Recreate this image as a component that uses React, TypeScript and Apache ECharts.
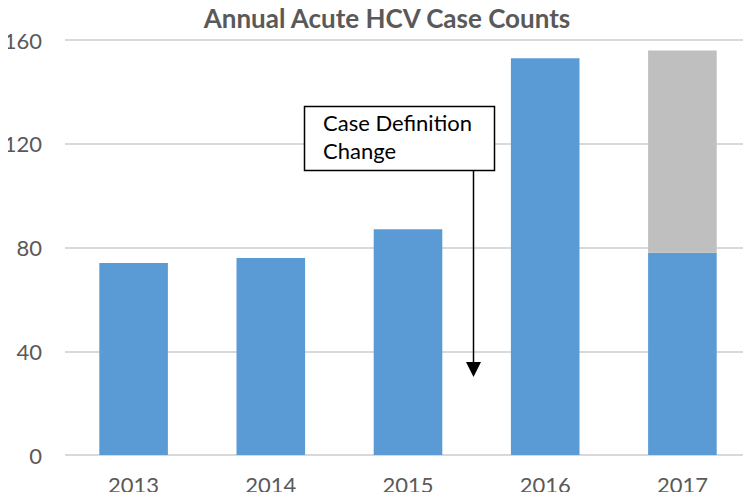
import React, { useEffect, useRef } from "react";
import * as echarts from "echarts";

const categories = ["2013", "2014", "2015", "2016", "2017"];
const confirmedCases = [74, 76, 87, 153, 78];
const additionalCases = [null, null, null, null, 78];
const yTicks = [0, 40, 80, 120, 160];
const titleText = "Annual Acute HCV Case Counts";
const annotationLines = ["Case Definition", "Change"];

const FONT = "Lato, 'Open Sans', sans-serif";

export default function App() {
  const ref = useRef<HTMLDivElement>(null);
  useEffect(() => {
    if (!ref.current) return;
    const chart = echarts.init(ref.current, null, { renderer: "svg" });
    const yMax = yTicks[yTicks.length - 1];
    const interval = yTicks[1] - yTicks[0];
    chart.setOption({
      animation: false,
      textStyle: { fontFamily: FONT },
      title: {
        text: titleText,
        left: 382,
        textAlign: "center",
        top: 0,
        textStyle: { fontFamily: FONT, fontSize: 26, fontWeight: "bold", color: "#595959" },
      },
      grid: { left: 65, width: 690, top: 40, bottom: 45 },
      xAxis: {
        type: "category",
        data: categories,
        axisLine: { show: false },
        axisTick: { show: false },
        axisLabel: { color: "#595959", fontSize: 22, margin: 18, fontFamily: FONT },
      },
      yAxis: {
        type: "value",
        min: 0,
        max: yMax,
        interval,
        axisLine: { show: false },
        axisTick: { show: false },
        axisLabel: { color: "#595959", fontSize: 22, margin: 23, fontFamily: FONT },
        splitLine: { lineStyle: { color: "#D9D9D9", width: 2 } },
      },
      series: [
        {
          type: "bar",
          stack: "total",
          data: confirmedCases,
          barWidth: "50%",
          itemStyle: { color: "#5B9BD5" },
        },
        {
          type: "bar",
          stack: "total",
          data: additionalCases,
          barWidth: "50%",
          itemStyle: { color: "#BFBFBF" },
        },
      ],
      graphic: [
        {
          type: "rect",
          shape: { x: 304.5, y: 106.5, width: 190, height: 64 },
          style: { fill: "#ffffff", stroke: "#000000", lineWidth: 1.5 },
          z: 100,
        },
        {
          type: "text",
          x: 323,
          y: 108,
          style: {
            text: annotationLines.join("\n"),
            fill: "#000000",
            font: `22px ${FONT}`,
            lineHeight: 28,
          },
          z: 101,
        },
        {
          type: "line",
          shape: { x1: 473.5, y1: 171, x2: 473.5, y2: 364 },
          style: { stroke: "#000000", lineWidth: 1.5 },
          z: 100,
        },
        {
          type: "polygon",
          shape: { points: [[466, 362], [481, 362], [473.5, 377]] },
          style: { fill: "#000000" },
          z: 100,
        },
      ],
    });
    return () => chart.dispose();
  }, []);
  return <div ref={ref} style={{ width: 751, height: 500, margin: -8 }} />;
}
